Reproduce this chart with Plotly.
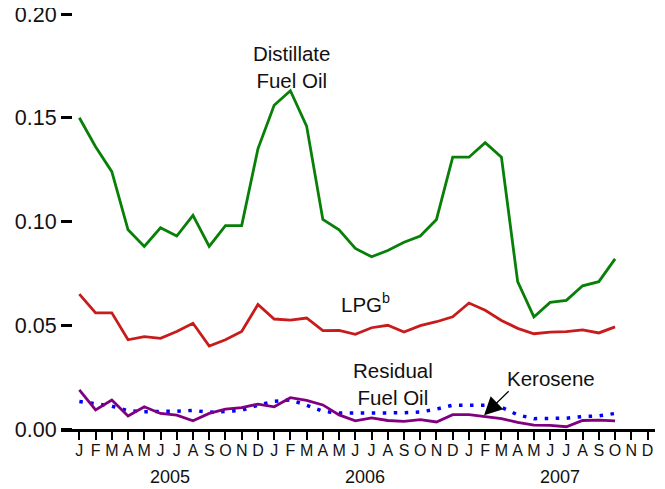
import plotly.graph_objects as go

# monthly series, Jan 2005 .. Oct 2007
months = list(range(34))
distillate = [0.150, 0.136, 0.124, 0.096, 0.088, 0.097, 0.093, 0.103, 0.088, 0.098, 0.098, 0.135,
              0.156, 0.163, 0.146, 0.101, 0.096, 0.087, 0.083, 0.086, 0.090, 0.093, 0.101, 0.131,
              0.131, 0.138, 0.131, 0.071, 0.054, 0.061, 0.062, 0.069, 0.071, 0.082]
lpg = [0.065, 0.056, 0.056, 0.043, 0.0445, 0.0437, 0.047, 0.051, 0.040, 0.043, 0.047, 0.060,
       0.053, 0.0525, 0.0535, 0.0474, 0.0475, 0.0456, 0.0488, 0.050, 0.0467, 0.0498, 0.0517, 0.0541,
       0.0607, 0.0572, 0.0523, 0.0485, 0.0459, 0.0467, 0.0469, 0.0478, 0.0463, 0.0492]
kerosene = [0.0189, 0.0092, 0.0140, 0.0063, 0.0107, 0.0075, 0.0067, 0.0040, 0.0075, 0.0096, 0.0103, 0.0120,
            0.0107, 0.0151, 0.0138, 0.0116, 0.0068, 0.0039, 0.0054, 0.0041, 0.0037, 0.0045, 0.0034, 0.0069,
            0.0069, 0.0061, 0.0050, 0.0032, 0.0019, 0.0017, 0.0011, 0.0041, 0.0043, 0.0039]
residual = [0.0133, 0.0122, 0.0110, 0.0088, 0.0083, 0.0085, 0.0085, 0.0090, 0.0080, 0.0085, 0.0090, 0.0115,
            0.0133, 0.0140, 0.0115, 0.0085, 0.0077, 0.0077, 0.0077, 0.0077, 0.0078, 0.0082, 0.0096, 0.0115,
            0.0117, 0.0115, 0.0105, 0.0068, 0.0050, 0.0050, 0.0052, 0.0060, 0.0063, 0.0075]

month_letters = ["J", "F", "M", "A", "M", "J", "J", "A", "S", "O", "N", "D"] * 3
years = ["2005", "2006", "2007"]
y_ticks = [0.00, 0.05, 0.10, 0.15, 0.20]

FONT = "Liberation Sans, Arial, sans-serif"

fig = go.Figure()
fig.add_trace(go.Scatter(x=months, y=residual, mode="lines",
                         line=dict(color="#0000ff", width=3.5, dash="3.5px,7.5px")))
fig.add_trace(go.Scatter(x=months, y=kerosene, mode="lines", line=dict(color="#800080", width=2.8)))
fig.add_trace(go.Scatter(x=months, y=lpg, mode="lines", line=dict(color="#c81c1c", width=2.8)))
fig.add_trace(go.Scatter(x=months, y=distillate, mode="lines", line=dict(color="#088008", width=2.8)))

ann = [
    dict(x=13.04, y=0.1745, text="Distillate<br>Fuel Oil"),
    dict(x=17.6, y=0.0605, text="LPG<sup>b</sup>"),
    dict(x=19.3, y=0.0217, text="Residual<br>Fuel Oil"),
    dict(x=29.03, y=0.0244, text="Kerosene"),
]
for a in ann:
    fig.add_annotation(**a, xref="x", yref="y", showarrow=False,
                       font=dict(size=20.5, color="#111111", family=FONT))
# arrow to the kerosene line
fig.add_annotation(x=24.93, y=0.0066, ax=26.54, ay=0.0189, xref="x", yref="y", axref="x", ayref="y",
                   text="", showarrow=True, arrowhead=2, arrowsize=3, arrowwidth=1.2,
                   arrowcolor="black", standoff=0)
for i, yr in enumerate(years):
    fig.add_annotation(x=5.6 + 12 * i, y=-0.116, xref="x", yref="paper", yanchor="middle",
                       text=yr, showarrow=False, font=dict(size=18, color="#111111", family=FONT))

# page body keeps its default 8px margin, so the figure is sized to sit inside it
fig.update_layout(
    width=657, height=481, showlegend=False,
    margin=dict(l=53, r=10, t=6, b=60),
    paper_bgcolor="white", plot_bgcolor="white",
    font=dict(family=FONT, color="#111111"),
    xaxis=dict(range=[-1.13, 35.46], tickvals=list(range(36)), ticktext=month_letters,
               ticks="outside", ticklen=8, tickwidth=2, tickcolor="black", automargin=False,
               showline=True, linewidth=2.5, linecolor="black", showgrid=False, zeroline=False,
               tickfont=dict(size=16, family=FONT), ticklabelstandoff=-3),
    yaxis=dict(range=[0, 0.2], tickvals=y_ticks, ticktext=[f"{v:.2f}" for v in y_ticks],
               anchor="free", position=11 / 594, ticklabeloverflow="allow",
               ticks="outside", ticklen=11, tickwidth=2.5, tickcolor="black", automargin=False,
               showline=False, showgrid=False, zeroline=False,
               tickfont=dict(size=21.5, family=FONT)),
)
fig.write_html("out.html")
